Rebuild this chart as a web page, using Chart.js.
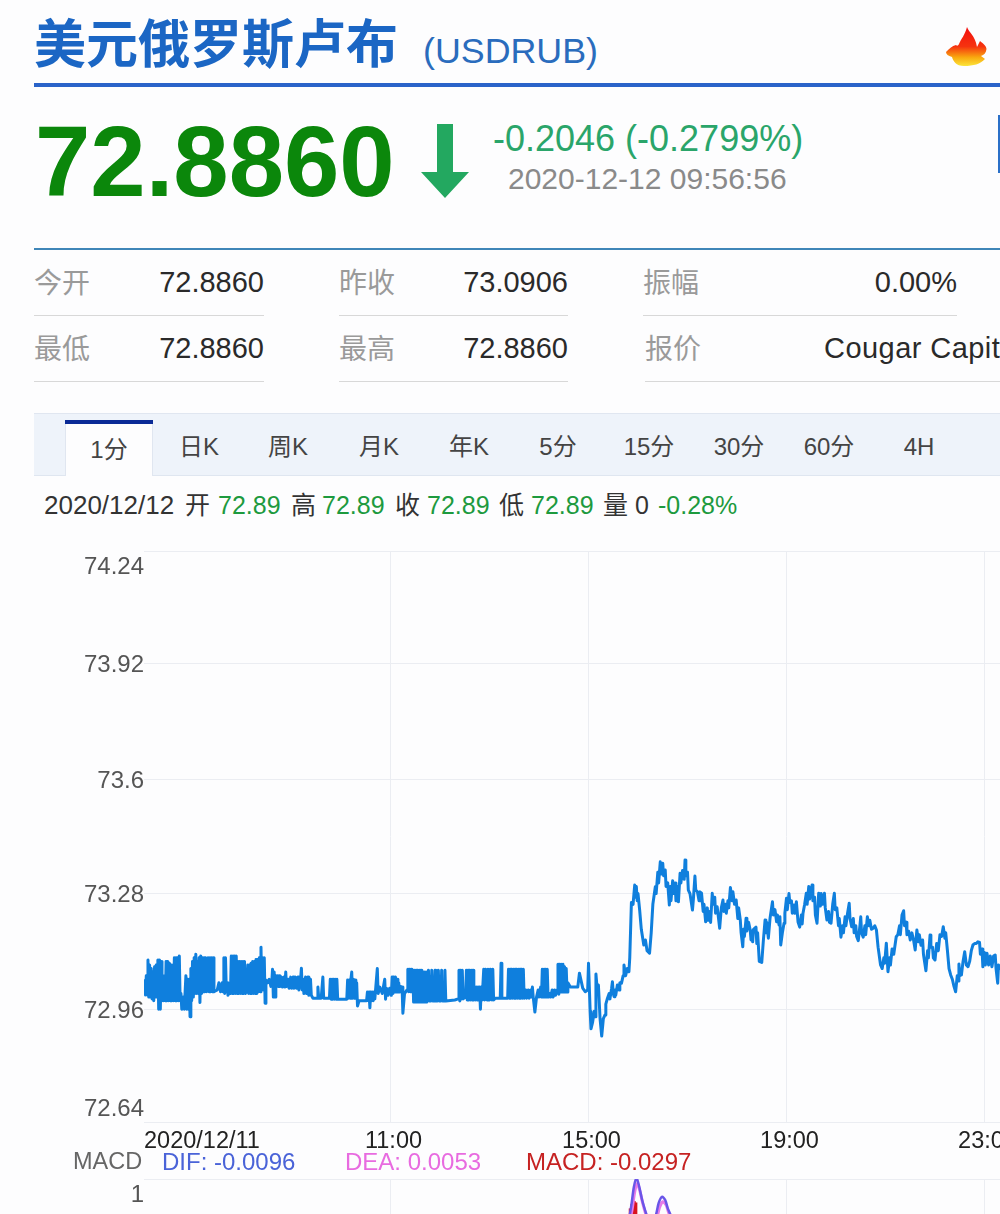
<!DOCTYPE html>
<html lang="zh">
<head>
<meta charset="utf-8">
<script src="https://cdn.jsdelivr.net/npm/chart.js@4"></script>
<style>
html,body{margin:0;padding:0;background:#fdfdfe}
body{position:relative;width:1000px;height:1214px;overflow:hidden;font-family:"Liberation Sans","Noto Sans CJK SC",sans-serif}
.t{position:absolute;white-space:nowrap;line-height:1;transform:translateY(-50%)}
.b{position:absolute}
.lab{font-size:28px;color:#9a9a9a;margin-top:2px}
.val{font-size:29px;color:#2a2a2a}
.tab{font-size:24px;color:#444;transform:translate(-50%,-50%)}
.inf{font-size:25px;color:#333}
.grn{color:#1d9a3e}
canvas{position:absolute;left:0}
</style>
</head>
<body>
<div class="t" style="left:34px;top:45px;font-size:52px;font-weight:700;color:#1b66c4">美元俄罗斯卢布</div>
<div class="t" style="left:423px;top:52px;font-size:35.8px;color:#2a6cbd">(USDRUB)</div>
<svg class="b" style="left:944px;top:25px" width="46" height="44" viewBox="0 0 46 44">
<defs><linearGradient id="fl" x1="0" y1="0" x2="0" y2="1"><stop offset="0" stop-color="#f30f0f"/><stop offset=".5" stop-color="#f6330f"/><stop offset=".78" stop-color="#f9a90f"/><stop offset="1" stop-color="#fbe53a"/></linearGradient></defs>
<path d="M23 2 C25 8 31 10 33 22 L36 16 C38 18 42 20 42.500 24 C42 28 40 30 37 31 L41 34 C36 39 30 41 20 41 C12 41 9 36 8 32 C4 31 2 29 2 27 C5 24 8 21 12 20 C13 21 14 21 15 19 C17 14 21 10 23 2 Z" fill="url(#fl)"/>
</svg>
<div class="b" style="left:34px;top:83px;width:966px;height:4px;background:#2a63c9"></div>

<div class="t" style="left:35px;top:162px;font-size:99.500px;font-weight:700;color:#0b870b">72.8860</div>
<svg class="b" style="left:420px;top:123px" width="50" height="76" viewBox="0 0 50 76"><path d="M17 1 H33 V49 H49 L25 75 L1 49 H17 Z" fill="#23a860"/></svg>
<div class="t" style="left:493px;top:139px;font-size:36px;color:#2aa56a">-0.2046 (-0.2799%)</div>
<div class="t" style="left:508px;top:179px;font-size:30px;color:#8a8a8a">2020-12-12 09:56:56</div>
<div class="b" style="left:998px;top:115px;width:2px;height:58px;background:#2a70c8"></div>
<div class="b" style="left:34px;top:248px;width:966px;height:2px;background:#3f86b8"></div>

<div class="t lab" style="left:34px;top:282px">今开</div>
<div class="t val" style="right:736px;top:282px">72.8860</div>
<div class="t lab" style="left:339px;top:282px">昨收</div>
<div class="t val" style="right:432px;top:282px">73.0906</div>
<div class="t lab" style="left:643px;top:282px">振幅</div>
<div class="t val" style="right:43px;top:282px">0.00%</div>
<div class="b" style="left:34px;top:315px;width:230px;height:1px;background:#d8d8d8"></div>
<div class="b" style="left:339px;top:315px;width:229px;height:1px;background:#d8d8d8"></div>
<div class="b" style="left:643px;top:315px;width:314px;height:1px;background:#d8d8d8"></div>
<div class="t lab" style="left:34px;top:348px">最低</div>
<div class="t val" style="right:736px;top:348px">72.8860</div>
<div class="t lab" style="left:339px;top:348px">最高</div>
<div class="t val" style="right:432px;top:348px">72.8860</div>
<div class="t lab" style="left:645px;top:348px">报价</div>
<div class="t val" style="left:824px;top:348px;letter-spacing:.45px">Cougar Capital</div>
<div class="b" style="left:34px;top:381px;width:230px;height:1px;background:#d8d8d8"></div>
<div class="b" style="left:339px;top:381px;width:229px;height:1px;background:#d8d8d8"></div>
<div class="b" style="left:645px;top:381px;width:355px;height:1px;background:#d8d8d8"></div>

<div class="b" style="left:34px;top:413px;width:966px;height:61px;background:#eef3fa;border-top:1px solid #e0e6f0;border-bottom:1px solid #dfe6f0"></div>
<div class="b" style="left:65px;top:420px;width:88px;height:56px;background:#fdfdfe;border-left:1px solid #e0e6f0;border-right:1px solid #e0e6f0;box-sizing:border-box"></div>
<div class="b" style="left:65px;top:420px;width:88px;height:4px;background:#0a2a96"></div>
<div class="t tab" style="left:109px;top:450px">1分</div>
<div class="t tab" style="left:199px;top:447px">日K</div>
<div class="t tab" style="left:288px;top:447px">周K</div>
<div class="t tab" style="left:379px;top:447px">月K</div>
<div class="t tab" style="left:469px;top:447px">年K</div>
<div class="t tab" style="left:558px;top:447px">5分</div>
<div class="t tab" style="left:649px;top:447px">15分</div>
<div class="t tab" style="left:739px;top:447px">30分</div>
<div class="t tab" style="left:829px;top:447px">60分</div>
<div class="t tab" style="left:919px;top:447px">4H</div>

<div class="t inf" style="left:44px;top:505px;font-size:26px">2020/12/12</div>
<div class="t inf" style="left:185px;top:505px">开</div>
<div class="t inf grn" style="left:218px;top:505px">72.89</div>
<div class="t inf" style="left:291px;top:505px">高</div>
<div class="t inf grn" style="left:322px;top:505px">72.89</div>
<div class="t inf" style="left:395px;top:505px">收</div>
<div class="t inf grn" style="left:427px;top:505px">72.89</div>
<div class="t inf" style="left:499px;top:505px">低</div>
<div class="t inf grn" style="left:531px;top:505px">72.89</div>
<div class="t inf" style="left:603px;top:505px">量</div>
<div class="t inf" style="left:635px;top:505px">0</div>
<div class="t inf grn" style="left:658px;top:505px">-0.28%</div>

<canvas id="price" style="top:540px"></canvas>
<canvas id="macd" style="top:1170px"></canvas>

<div class="t" style="left:73px;top:1162px;font-size:23.500px;color:#666">MACD</div>
<div class="t" style="left:162px;top:1162px;font-size:24px;color:#4a63d8">DIF: -0.0096</div>
<div class="t" style="left:345px;top:1162px;font-size:24px;color:#e86be0">DEA: 0.0053</div>
<div class="t" style="left:526px;top:1162px;font-size:24px;color:#c62222">MACD: -0.0297</div>

<script>
// Price line: [minute of the day, USDRUB price]
const usdrubComb = [
[362,73.04],[363,72.996],[364,73.05],[365,72.996],[366,73.094],[367,72.99],[368,73.08],[369,72.99],[370,73.07],[371,72.985],[372,73.06],[373,72.98],[374,73.075],[375,72.99],[376,73.08],[377,72.99],[378,73.094],[379,72.956],[380,73.094],[381,72.956],[382,73.09],[383,72.98],[384,73.05],[385,72.98],[386,73.05],[387,72.98],[388,73.09],[389,72.98],[390,73.09],[391,72.98],[392,73.085],[393,72.98],[394,73.08],[395,72.98],[396,73.075],[397,72.98],[398,73.10],[399,72.98],[400,73.10],[401,72.98],[402,73.10],[403,72.98],[404,73.105],[405,72.98],[406,73.00],[407,72.956],[409,72.99],[410,72.956],[412,73.05],[413,72.956],[414,73.04],[415,72.956],[416,73.04],[417,72.935],
[418,73.07],[419,72.98],[420,73.09],[421,72.99],[422,73.10],[423,73.0],[424,73.11],[425,73.0],[426,73.09],[427,73.0],[428,73.10],[429,72.975],[430,73.105],[431,73.0],[432,73.10],[433,73.005],[434,73.10],[435,73.005],[436,73.10],[437,73.005],[439,73.10],[440,73.005],[441,73.10],[442,73.005],[443,73.10],[444,73.005],[445,73.10],[446,73.005],[450,73.01],
[452,73.03],[454,73.005],[456,73.03],[457,73.005],[458,73.10],[459,73.0],[460,73.10],[461,73.005],[462,73.03],[463,72.995],[465,73.01],[466,73.0],
[467,73.105],[468,73.0],[469,73.105],[470,73.0],[471,73.105],[472,73.0],[473,73.105],[474,73.0],[475,73.09],[476,73.0],[477,73.09],[478,73.0],[479,73.09],[480,73.0],[481,73.09],[482,73.0],[483,73.09],[484,73.0],[486,73.01],
[487,73.08],[488,73.0],[489,73.08],[490,73.0],[491,73.085],[492,73.0],[493,73.09],[494,73.0],[495,73.09],[496,73.0],[497,73.095],[498,73.0],[499,73.095],[500,73.005],[501,73.10],[502,73.005],[503,73.13],[504,73.01],[505,73.10],[506,73.01],[507,73.10],[508,72.973],[509,73.038],
[511,73.03],[513,73.04],[515,73.02],[516,73.03],[517,73.068],[518,72.99],[519,73.06],[520,72.99],[521,73.05],[522,73.02],[523,73.05],[524,73.02],[525,73.05],[526,73.02],[528,73.046],[529,73.018],[531,73.046],[532,73.018],[533,73.06],[534,73.02],[536,73.04],[537,73.015],
[539,73.046],[540,73.015],[542,73.046],[543,73.015],[545,73.046],[546,73.015],[548,73.046],[549,73.01],[551,73.04],[552,73.071],[553,73.01],[554,73.04],[555,73.0],[557,73.046],[558,73.0],[560,73.046],[561,72.995],[563,73.04],[564,72.995],
[566,72.987],[569,72.987],[571,72.987],[572,73.018],[573,72.987],[576,72.987],[578,73.046],[579,72.987],[581,72.987],[584,72.987],[586,72.987],
[587,73.04],[588,72.984],[589,73.04],[590,72.984],[591,73.04],[592,72.984],[593,73.04],[594,72.984],[595,73.04],[596,72.984],[607,72.984],
[608,73.038],[609,72.987],[610,73.038],[611,72.987],[612,73.04],[613,73.06],[614,72.987],[615,73.04],[616,72.987],[617,73.038],[618,72.987],[619,73.03],[620,72.965],[622,72.98],[631,72.98],
[632,73.004],[633,72.98],[634,73.004],[635,72.96],[636,73.004],[637,72.98],[638,73.004],[639,72.98],[640,73.004],[641,72.985],[644,73.07],[645,73.0],[647,73.018],[650,73.0],[653,73.04],[654,72.984],[655,73.015],[657,72.995],[659,73.015],[661,72.995],
[662,73.046],[663,73.0],[664,73.046],[665,73.004],[666,73.046],[667,73.004],[668,73.04],[669,73.004],[670,73.03],[671,73.004],[672,73.02],[674,73.018],[675,72.945],[677,73.0],[680,73.01],
[681,73.068],[682,73.005],[683,73.068],[684,73.005],[685,73.068],[686,73.005],[687,73.065],[688,72.976],[689,73.065],[690,72.976],[691,73.065],[692,72.976],[693,73.065],[694,72.976],[695,73.065],[696,72.976],[697,73.065],[698,72.976],[699,73.06],[700,72.976],[701,73.06],[702,72.976],[703,73.06],[704,72.976],
[706,73.065],[707,72.979],[709,72.979],[710,73.065],[711,72.979],[713,72.979],[714,73.065],[715,72.979],[717,72.979],[718,73.065],[719,72.979],[721,72.979],[722,73.065],[723,72.979],[725,72.979],[726,73.065],[727,72.979],[738,72.982],
[742,72.985],[743,73.065],[744,72.979],[745,73.065],[746,72.985],[747,73.065],[748,72.985],[751,72.99],
[752,73.065],[753,72.982],[754,73.065],[755,72.982],[756,73.065],[757,72.982],[758,73.065],[759,72.982],[760,73.065],[761,72.982],[762,73.018],[763,72.982],[764,73.018],[765,72.982],[766,73.018],[767,72.982],[768,73.018],[769,72.956],[770,73.018],[771,72.982],
[773,73.068],[774,72.982],[775,73.068],[777,72.982],[778,73.068],[780,72.982],[781,73.068],[783,72.982],[784,73.068],[785,72.982],[787,72.987],[793,72.987],[794,73.085],[795,72.987],[802,72.987],
[803,73.068],[804,72.987],[805,73.068],[806,72.987],[807,73.068],[808,72.987],[809,73.068],[810,72.987],[811,73.068],[812,72.987],[813,73.068],[814,72.987],[815,73.068],[816,72.987],[817,73.068],[818,72.987],[819,73.068],[820,72.987],[821,73.068],[822,72.987],
[824,73.01],[825,72.987],[827,73.01],[828,72.987],[830,73.01],[831,72.99],[832,73.018],[833,72.99],[835,72.948],[837,72.99],[839,73.01],[840,72.99],[842,73.018],[843,72.99],
[844,73.068],[845,72.99],[846,73.068],[847,72.99],[848,73.068],[849,72.99],[850,73.068],[851,72.99],[853,73.0],[854,72.99],[856,73.01],[857,72.99],[859,73.01],[860,72.995],[862,73.01],
[863,73.082],[864,72.998],[865,73.082],[866,73.004],[867,73.082],[868,73.004],[869,73.082],[870,73.004],[871,73.075],[872,73.004],[873,73.07],[874,73.004],[875,73.03],[878,73.018],[882,73.018],[887,73.018],[889,73.057]
];
const usdrubSwing = [
[893,73.015],[896,73.005],[899,73.010],[900,73.085],[902,72.95],[903,72.901],[905,72.92],[907,72.95],[908,72.935],[909,73.055],[911,73.0],[912,73.024],[914,72.93],[916,72.881],[918,72.93],[920,72.94],[921,72.97],[923,72.987],[925,73.0],[926,72.985],[928,73.015],[929,73.033],[930,73.0],[931,72.991],[932,73.01],[933,72.995],[935,73.024],[937,73.01],[938,73.03],[940,73.029],[942,73.05],[943,73.08],[945,73.05],[947,73.07],[949,73.061],[950,73.1],[952,73.255],[954,73.25],[956,73.304],[957,73.27],[958,73.30],[959,73.26],[960,73.28],[962,73.234],[964,73.18],[967,73.136],[969,73.15],[971,73.12],[974,73.113],[976,73.17],[978,73.25],[981,73.299],[982,73.28],[984,73.34],[985,73.31],[987,73.369],[988,73.335],[990,73.365],[991,73.33],[993,73.346],[994,73.30],[996,73.31],[998,73.248],[999,73.30],[1000,73.26],[1002,73.316],[1003,73.28],[1005,73.31],[1006,73.26],[1008,73.30],[1009,73.257],[1011,73.337],[1012,73.31],[1014,73.345],[1016,73.32],[1017,73.374],[1018,73.33],[1020,73.34],[1021,73.29],[1023,73.28],[1026,73.234],[1027,73.26],[1029,73.329],[1030,73.29],[1032,73.285],[1034,73.26],[1035,73.285],[1037,73.281],[1039,73.23],[1040,73.25],[1042,73.201],[1044,73.24],[1045,73.205],[1047,73.23],[1048,73.199],[1050,73.281],[1051,73.25],[1053,73.27],[1054,73.225],[1056,73.243],[1059,73.183],[1061,73.24],[1063,73.262],[1064,73.23],[1066,73.25],[1067,73.225],[1069,73.26],[1070,73.24],[1072,73.297],[1074,73.26],[1075,73.285],[1077,73.25],[1079,73.262],[1081,73.21],[1082,73.24],[1084,73.206],[1085,73.17],[1087,73.131],[1088,73.18],[1089,73.16],[1091,73.211],[1092,73.175],[1094,73.2],[1096,73.178],[1097,73.15],[1098,73.175],[1099,73.145],[1100,73.18],[1103,73.186],[1104,73.14],[1105,73.17],[1107,73.09],[1110,73.087],[1112,73.15],[1114,73.206],[1115,73.17],[1116,73.2],[1118,73.155],[1120,73.21],[1123,73.257],[1124,73.22],[1126,73.235],[1128,73.201],[1129,73.22],[1131,73.192],[1132,73.215],[1133,73.136],[1135,73.17],[1137,73.197],[1138,73.225],[1140,73.267],[1141,73.235],[1143,73.28],[1144,73.255],[1146,73.26],[1147,73.225],[1149,73.248],[1150,73.225],[1152,73.257],[1154,73.2],[1156,73.186],[1158,73.22],[1159,73.195],[1160,73.225],[1162,73.25],[1164,73.281],[1165,73.25],[1167,73.30],[1168,73.265],[1171,73.304],[1172,73.26],[1174,73.27],[1175,73.22],[1177,73.197],[1179,73.281],[1181,73.245],[1182,73.28],[1184,73.25],[1186,73.281],[1187,73.24],[1189,73.206],[1191,73.23],[1192,73.2],[1194,73.197],[1196,73.25],[1198,73.281],[1199,73.235],[1201,73.24],[1203,73.19],[1204,73.21],[1206,73.158],[1208,73.19],[1209,73.17],[1211,73.215],[1212,73.19],[1214,73.225],[1216,73.253],[1217,73.21],[1219,73.187],[1221,73.21],[1222,73.17],[1224,73.19],[1225,73.16],[1227,73.148],[1229,73.19],[1230,73.215],[1231,73.17],[1233,73.158],[1235,73.19],[1236,73.165],[1238,73.215],[1240,73.19],[1241,73.205],[1243,73.18],[1245,73.183],[1247,73.19],[1249,73.178],[1251,73.13],[1254,73.08],[1256,73.07],[1258,73.10],[1259,73.085],[1261,73.141],[1263,73.061],[1265,73.10],[1266,73.08],[1268,73.125],[1270,73.11],[1273,73.159],[1275,73.165],[1277,73.19],[1278,73.165],[1280,73.22],[1282,73.232],[1283,73.19],[1285,73.2],[1286,73.165],[1288,73.175],[1290,73.15],[1292,73.17],[1294,73.15],[1296,73.122],[1298,73.178],[1300,73.145],[1301,73.165],[1303,73.135],[1305,73.15],[1306,73.11],[1309,73.064],[1311,73.12],[1312,73.10],[1314,73.164],[1315,73.13],[1317,73.13],[1318,73.10],[1320,73.094],[1322,73.14],[1324,73.12],[1326,73.165],[1328,73.16],[1330,73.187],[1332,73.155],[1333,73.17],[1335,73.122],[1337,73.07],[1339,73.052],[1341,73.04],[1343,73.02],[1345,73.005],[1347,73.05],[1348,73.035],[1349,73.083],[1350,73.05],[1352,73.052],[1354,73.09],[1356,73.117],[1358,73.08],[1360,73.075],[1362,73.09],[1364,73.12],[1366,73.136],[1368,73.14],[1370,73.14],[1372,73.145],[1374,73.143],[1375,73.11],[1377,73.125],[1378,73.075],[1380,73.115],[1381,73.08],[1383,73.113],[1385,73.08],[1387,73.105],[1389,73.075],[1391,73.105],[1393,73.108],[1394,73.07],[1396,73.029],[1397,73.08],[1399,73.066]
];
const priceTickValues = [74.24,73.926,73.60,73.28,72.955,72.64];
const priceTickLabels = [['','74.24'],'73.92','73.6','73.28','72.96',['72.64','']];
const timeTickValues = [357.6,660,900,1140,1380,1520];
const timeTickLabels = ['2020/12/11','11:00','15:00','19:00','23:00',''];
const timeMin = 361.2, timeMax = 1520;
const difLine = [[948,0.09],[952,0.66],[955,1.17],[958,1.42],[961,1.23],[965,0.8],[970,0.4],[975,0.06],[978,0.17],[982,0.4],[985,0.71],[989,0.89],[993,0.8],[996,0.57],[1000,0.34],[1005,0]];
const deaLine = [[949,0.05],[953,0.55],[956,1.03],[959,1.27],[962,1.08],[966,0.68],[971,0.28],[976,0],[979,0.1],[983,0.3],[986,0.58],[990,0.75],[994,0.66],[997,0.45],[1001,0.22],[1006,-0.1]];
const macdBars = [[951,0.55],[953,0.68],[955,0.76],[957,0.72]];
const macdTickValues = [1.4,1];

const pts = a => a.map(p => ({x:p[0],y:p[1]}));
const FONT = '"Liberation Sans",sans-serif';
const GRID = '#ebedf2';
const noPad = s => {s.paddingTop=0;s.paddingBottom=0;s.paddingLeft=0;s.paddingRight=0;};
function place(canvas,w,h){canvas.width=w;canvas.height=h;canvas.style.width=w+'px';canvas.style.height=h+'px';}
const c1=document.getElementById('price'), c2=document.getElementById('macd');
place(c1,1100,620); place(c2,1100,100);

new Chart(c1,{
  type:'line',
  data:{datasets:[{data:pts(usdrubComb.concat(usdrubSwing)),borderColor:'#0f7fdd',borderWidth:3,pointRadius:0,tension:0,fill:false,borderJoinStyle:'round'}]},
  options:{
    responsive:false,animation:false,devicePixelRatio:1,
    layout:{padding:{top:11,left:0,right:0,bottom:0}},
    plugins:{legend:{display:false},tooltip:{enabled:false}},
    scales:{
      x:{type:'linear',min:timeMin,max:timeMax,
        afterBuildTicks:s=>{s.ticks=timeTickValues.map(v=>({value:v}));},
        afterFit:s=>{s.height=38;noPad(s);},
        border:{display:false},
        grid:{drawTicks:false,color:c=>(c.index===0||c.index===timeTickValues.length-1)?'rgba(0,0,0,0)':GRID},
        ticks:{autoSkip:false,maxRotation:0,align:'inner',labelOffset:3,padding:5,color:'#222',font:{family:FONT,size:23.5},
          callback:(v,i)=>timeTickLabels[i]}},
      y:{type:'linear',min:72.64,max:74.24,
        afterBuildTicks:s=>{s.ticks=priceTickValues.map(v=>({value:v}));},
        afterFit:s=>{s.width=144;noPad(s);},
        border:{display:false},
        grid:{drawTicks:false,color:GRID},
        ticks:{autoSkip:false,padding:0,labelOffset:2,color:'#555',font:{family:FONT,size:24},
          callback:(v,i)=>priceTickLabels[i]}}
    }
  }
});

new Chart(c2,{
  data:{datasets:[
    {type:'line',data:pts(difLine),borderColor:'#6a55e8',borderWidth:2.5,pointRadius:0,tension:0.3,order:1},
    {type:'line',data:pts(deaLine),borderColor:'#e67be8',borderWidth:3,pointRadius:0,tension:0.3,order:2},
    {type:'bar',data:pts(macdBars),backgroundColor:'#d81420',barThickness:3,order:3}
  ]},
  options:{
    responsive:false,animation:false,devicePixelRatio:1,
    layout:{padding:{top:9,left:0,right:0,bottom:0}},
    plugins:{legend:{display:false},tooltip:{enabled:false}},
    scales:{
      x:{type:'linear',min:timeMin,max:timeMax,offset:false,
        afterBuildTicks:s=>{s.ticks=timeTickValues.slice(1,5).map(v=>({value:v}));},
        afterFit:s=>{s.height=0;noPad(s);},
        border:{display:false},
        grid:{drawTicks:false,color:GRID,offset:false},
        ticks:{display:false,autoSkip:false}},
      y:{type:'linear',min:-1.2,max:1.4,
        afterBuildTicks:s=>{s.ticks=macdTickValues.map(v=>({value:v}));},
        afterFit:s=>{s.width=144;noPad(s);},
        border:{display:false},
        grid:{drawTicks:false,color:c=>c.index===0?GRID:'rgba(0,0,0,0)'},
        ticks:{autoSkip:false,padding:0,labelOffset:2,color:'#555',font:{family:FONT,size:24},
          callback:v=>v===1?'1':''}}
    }
  }
});
</script>
</body>
</html>
